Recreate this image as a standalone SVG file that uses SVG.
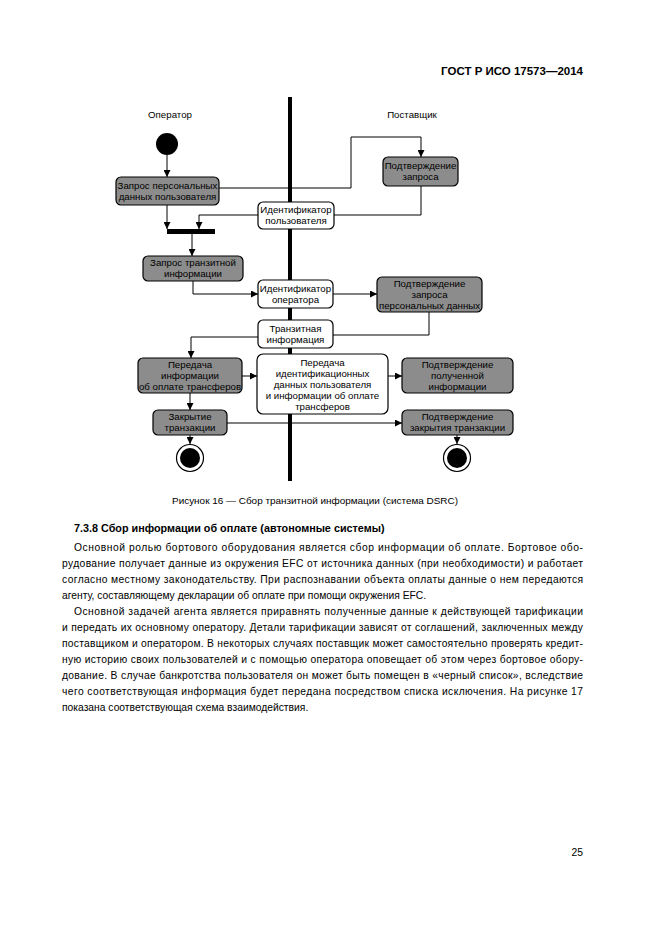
<svg xmlns="http://www.w3.org/2000/svg" width="661" height="935" viewBox="0 0 661 935">
<style>
text{font-family:"Liberation Sans",Arial,sans-serif;fill:#000}
.n{font-size:9.7px;text-anchor:middle}
.g{fill:#8c8c8c;stroke:#000;stroke-width:1.2}
.w{fill:#fff;stroke:#000;stroke-width:1.2}
.c{fill:none;stroke:#000;stroke-width:1}
.b{font-size:10.3px}
</style>
<defs>
<marker id="a" viewBox="0 0 10 10" refX="10" refY="5" markerWidth="7" markerHeight="7" markerUnits="userSpaceOnUse" orient="auto"><path d="M0,0L10,5L0,10z" fill="#000"/></marker>
</defs>
<rect width="661" height="935" fill="#fff"/>
<text x="583" y="75" style="font-size:11.5px;font-weight:bold" text-anchor="end">ГОСТ Р ИСО 17573—2014</text>
<text x="170" y="118" class="n">Оператор</text>
<text x="412" y="118" class="n">Поставщик</text>
<line x1="290" y1="97" x2="290" y2="481" stroke="#000" stroke-width="4"/>
<g id="connectors">
<path class="c" d="M167,155V177" marker-end="url(#a)"/>
<path class="c" d="M219,188H351V137H421V157" marker-end="url(#a)"/>
<path class="c" d="M421,186V215H334"/>
<path class="c" d="M258,215H199V229" marker-end="url(#a)"/>
<path class="c" d="M167,205V229" marker-end="url(#a)"/>
<path class="c" d="M192,234V256" marker-end="url(#a)"/>
<path class="c" d="M193,281V294H258" marker-end="url(#a)"/>
<path class="c" d="M333,294H377" marker-end="url(#a)"/>
<path class="c" d="M429,312V335H333"/>
<path class="c" d="M258,337H191V358" marker-end="url(#a)"/>
<path class="c" d="M242,376H257" marker-end="url(#a)"/>
<path class="c" d="M388,376H402" marker-end="url(#a)"/>
<path class="c" d="M190,393V410" marker-end="url(#a)"/>
<path class="c" d="M227,423H402" marker-end="url(#a)"/>
<path class="c" d="M190,435V444" marker-end="url(#a)"/>
<path class="c" d="M457,435V444" marker-end="url(#a)"/>
</g>
<g id="start"><circle cx="167" cy="144" r="11" fill="#000"/></g>
<g id="bar"><rect x="167" y="229" width="48" height="5" fill="#000"/></g>
<g id="n1"><rect class="g" x="116" y="177" width="103" height="28" rx="5"/><text class="n" x="167.5" y="189">Запрос персональных</text><text class="n" x="167.5" y="200">данных пользователя</text></g>
<g id="n2"><rect class="g" x="383" y="157" width="75" height="29" rx="5"/><text class="n" x="420.5" y="169">Подтверждение</text><text class="n" x="420.5" y="180">запроса</text></g>
<g id="n3"><rect class="w" x="258" y="202" width="76" height="27" rx="5"/><text class="n" x="296" y="213">Идентификатор</text><text class="n" x="296" y="224">пользователя</text></g>
<g id="n4"><rect class="g" x="143" y="256" width="100" height="25" rx="5"/><text class="n" x="193" y="266">Запрос транзитной</text><text class="n" x="193" y="277">информации</text></g>
<g id="n5"><rect class="w" x="258" y="280" width="75" height="28" rx="5"/><text class="n" x="295.5" y="292">Идентификатор</text><text class="n" x="295.5" y="303">оператора</text></g>
<g id="n6"><rect class="g" x="377" y="277" width="105" height="35" rx="5"/><text class="n" x="429.5" y="287">Подтверждение</text><text class="n" x="429.5" y="298">запроса</text><text class="n" x="429.5" y="309">персональных данных</text></g>
<g id="n7"><rect class="w" x="258" y="320" width="75" height="28" rx="5"/><text class="n" x="295.5" y="332">Транзитная</text><text class="n" x="295.5" y="343">информация</text></g>
<g id="n8"><rect class="g" x="138" y="358" width="104" height="35" rx="5"/><text class="n" x="190" y="368">Передача</text><text class="n" x="190" y="379">информации</text><text class="n" x="190" y="390">об оплате трансферов</text></g>
<g id="n9"><rect class="w" x="257" y="354" width="131" height="60" rx="6"/><text class="n" x="322.5" y="366">Передача</text><text class="n" x="322.5" y="377">идентификационных</text><text class="n" x="322.5" y="388">данных пользователя</text><text class="n" x="322.5" y="399">и информации об оплате</text><text class="n" x="322.5" y="410">трансферов</text></g>
<g id="n10"><rect class="g" x="402" y="358" width="111" height="35" rx="5"/><text class="n" x="457.5" y="368">Подтверждение</text><text class="n" x="457.5" y="379">полученной</text><text class="n" x="457.5" y="390">информации</text></g>
<g id="n11"><rect class="g" x="153" y="410" width="74" height="25" rx="5"/><text class="n" x="190" y="420">Закрытие</text><text class="n" x="190" y="431">транзакции</text></g>
<g id="n12"><rect class="g" x="402" y="410" width="111" height="25" rx="5"/><text class="n" x="457.5" y="420">Подтверждение</text><text class="n" x="457.5" y="431">закрытия транзакции</text></g>
<g id="end1"><circle cx="190" cy="458" r="13.5" fill="#fff" stroke="#000" stroke-width="1.2"/><circle cx="190" cy="458" r="10" fill="#000"/></g>
<g id="end2"><circle cx="457" cy="458" r="13.5" fill="#fff" stroke="#000" stroke-width="1.2"/><circle cx="457" cy="458" r="10" fill="#000"/></g>
<text x="172" y="504" style="font-size:9.8px" textLength="286" lengthAdjust="spacingAndGlyphs">Рисунок 16 — Сбор транзитной информации (система DSRC)</text>
<text x="74" y="532" style="font-size:10.8px;font-weight:bold">7.3.8  Сбор информации об оплате (автономные системы)</text>
<text x="74" y="551" class="b" textLength="509" lengthAdjust="spacing">Основной ролью бортового оборудования является сбор информации об оплате. Бортовое обо-</text>
<text x="62" y="567" class="b" textLength="521" lengthAdjust="spacing">рудование получает данные из окружения EFC от источника данных (при необходимости) и работает</text>
<text x="62" y="583" class="b" textLength="521" lengthAdjust="spacing">согласно местному законодательству. При распознавании объекта оплаты данные о нем передаются</text>
<text x="62" y="599" class="b">агенту, составляющему декларации об оплате при помощи окружения EFC.</text>
<text x="74" y="615" class="b" textLength="509" lengthAdjust="spacing">Основной задачей агента является приравнять полученные данные к действующей тарификации</text>
<text x="62" y="631" class="b" textLength="521" lengthAdjust="spacing">и передать их основному оператору. Детали тарификации зависят от соглашений, заключенных между</text>
<text x="62" y="647" class="b" textLength="521" lengthAdjust="spacing">поставщиком и оператором. В некоторых случаях поставщик может самостоятельно проверять кредит-</text>
<text x="62" y="663" class="b" textLength="521" lengthAdjust="spacing">ную историю своих пользователей и с помощью оператора оповещает об этом через бортовое обору-</text>
<text x="62" y="679" class="b" textLength="521" lengthAdjust="spacing">дование. В случае банкротства пользователя он может быть помещен в «черный список», вследствие</text>
<text x="62" y="695" class="b" textLength="521" lengthAdjust="spacing">чего соответствующая информация будет передана посредством списка исключения. На рисунке 17</text>
<text x="62" y="711" class="b">показана соответствующая схема взаимодействия.</text>
<text x="583" y="856" class="b" text-anchor="end">25</text>
</svg>
